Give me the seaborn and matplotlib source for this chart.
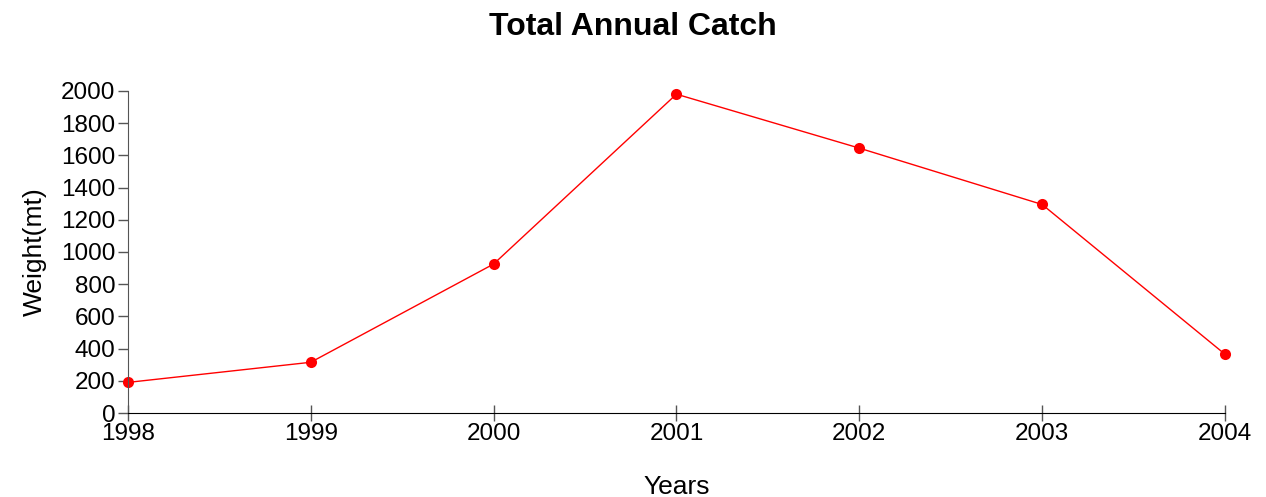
import matplotlib
matplotlib.use('Agg')
import matplotlib.pyplot as plt
import pandas as pd
import seaborn as sns

years = [1998, 1999, 2000, 2001, 2002, 2003, 2004]
weight = [190, 315, 925, 1980, 1645, 1295, 365]

df = pd.DataFrame({'Years': years, 'Weight': weight})

sns.set_style('white')
plt.rcParams['font.family'] = ['Liberation Sans', 'DejaVu Sans']
plt.rcParams['text.color'] = 'black'
plt.rcParams['axes.labelcolor'] = 'black'

fig = plt.figure(figsize=(12.66, 4.97), dpi=100)
ax = fig.add_axes([0.101, 0.169, 0.8666, 0.648])

sns.lineplot(data=df, x='Years', y='Weight', ax=ax, color='red', linewidth=1,
             marker='o', markersize=8, markeredgewidth=0, clip_on=False)

ax.set_xlim(1998, 2004)
ax.set_ylim(0, 2000)
ax.set_xticks(years)
ax.set_yticks(range(0, 2001, 200))
ax.tick_params(axis='both', labelsize=17.5, colors='black', bottom=True, left=True)
ax.tick_params(axis='y', direction='out', length=7, width=1, color='#555555', pad=2)
ax.tick_params(axis='x', direction='inout', length=12, width=1, color='#555555', pad=1)

for side in ['top', 'right']:
    ax.spines[side].set_visible(False)
ax.spines['left'].set_color('#555555')
ax.spines['bottom'].set_color('black')

ax.set_xlabel('Years', fontsize=19, labelpad=22)
ax.set_ylabel('Weight(mt)', fontsize=19, labelpad=10)
fig.suptitle('Total Annual Catch', fontsize=23, fontweight='bold', y=0.975)

fig.savefig('out.png', dpi=100)
